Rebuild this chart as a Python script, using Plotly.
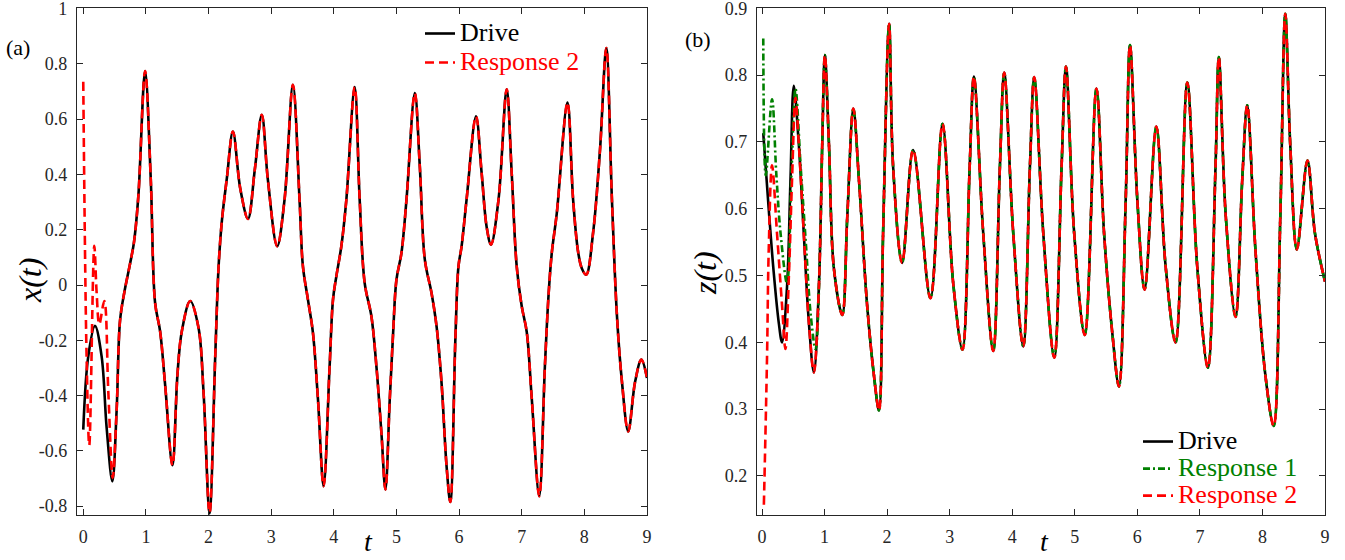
import plotly.graph_objects as go

# ---- panel (a): x(t) ----
t_drive_x = [0.0, 0.08, 0.187, 0.293, 0.373, 0.464, 0.533, 0.587, 0.656, 0.747, 0.81, 0.88,
             0.987, 1.077, 1.147, 1.227, 1.307, 1.424, 1.504, 1.573, 1.707, 1.84, 1.92, 2.016,
             2.107, 2.16, 2.213, 2.293, 2.389, 2.507, 2.63, 2.74, 2.85, 2.947, 3.096, 3.213,
             3.347, 3.453, 3.507, 3.587, 3.667, 3.747, 3.837, 3.933, 3.987, 4.04, 4.12, 4.2,
             4.333, 4.413, 4.493, 4.6, 4.68, 4.76, 4.824, 4.893, 4.947, 5.0, 5.08, 5.16,
             5.293, 5.373, 5.453, 5.56, 5.64, 5.72, 5.8, 5.86, 5.94, 5.99, 6.04, 6.12,
             6.27, 6.36, 6.44, 6.51, 6.63, 6.76, 6.84, 6.92, 7.0, 7.08, 7.16, 7.28,
             7.37, 7.43, 7.48, 7.56, 7.73, 7.82, 7.9, 7.96, 8.03, 8.14, 8.25, 8.35,
             8.44, 8.52, 8.6, 8.7, 8.81, 8.91, 9.0]
x_drive = [-0.523, -0.258, -0.148, -0.258, -0.516, -0.71, -0.452, -0.129, -0.026, 0.077, 0.155, 0.323,
           0.774, 0.387, -0.065, -0.168, -0.361, -0.652, -0.323, -0.168, -0.058, -0.155, -0.387, -0.826,
           -0.258, 0.065, 0.232, 0.387, 0.555, 0.348, 0.239, 0.42, 0.616, 0.381, 0.14, 0.308,
           0.724, 0.308, 0.067, -0.053, -0.173, -0.414, -0.728, -0.294, -0.053, 0.031, 0.14, 0.308,
           0.716, 0.308, 0.007, -0.113, -0.294, -0.535, -0.74, -0.414, -0.173, 0.019, 0.116, 0.308,
           0.694, 0.429, 0.092, -0.029, -0.149, -0.354, -0.655, -0.785, -0.2, 0.067, 0.14, 0.31,
           0.61, 0.405, 0.21, 0.146, 0.31, 0.708, 0.405, 0.067, -0.077, -0.17, -0.41, -0.764,
           -0.294, -0.03, 0.116, 0.26, 0.66, 0.31, 0.12, 0.06, 0.037, 0.19, 0.49, 0.857,
           0.31, -0.11, -0.35, -0.53, -0.35, -0.27, -0.336]

# response 2 before it locks onto the drive
t_resp2_x = [0.0, 0.053, 0.096, 0.176, 0.213, 0.256, 0.336, 0.4, 0.47]
x_resp2 = [0.735, -0.258, -0.58, 0.142, -0.026, -0.142, -0.058, -0.387, -0.697]

# ---- panel (b): z(t) ----
t_drive_z = [0.02, 0.107, 0.187, 0.267, 0.32, 0.4, 0.455, 0.508, 0.588, 0.668, 0.749, 0.829,
             0.909, 0.963, 1.005, 1.07, 1.15, 1.283, 1.364, 1.46, 1.55, 1.68, 1.79, 1.87,
             1.936, 2.032, 2.096, 2.24, 2.416, 2.693, 2.885, 3.056, 3.205, 3.32, 3.387, 3.536,
             3.696, 3.803, 3.872, 4.016, 4.176, 4.283, 4.352, 4.496, 4.672, 4.789, 4.859, 4.99,
             5.16, 5.346, 5.468, 5.6, 5.707, 5.814, 5.883, 6.0, 6.117, 6.303, 6.452, 6.612,
             6.798, 6.957, 7.128, 7.25, 7.303, 7.413, 7.571, 7.677, 7.757, 7.889, 8.048, 8.18,
             8.286, 8.365, 8.444, 8.55, 8.72, 8.84, 9.0]
z_drive = [0.713, 0.60, 0.505, 0.43, 0.40, 0.483, 0.643, 0.784, 0.697, 0.563, 0.43, 0.355,
           0.483, 0.697, 0.83, 0.697, 0.51, 0.441, 0.59, 0.75, 0.643, 0.456, 0.35, 0.298,
           0.564, 0.877, 0.663, 0.519, 0.688, 0.466, 0.727, 0.489, 0.389, 0.663, 0.798, 0.564,
           0.387, 0.663, 0.804, 0.564, 0.394, 0.663, 0.797, 0.564, 0.377, 0.663, 0.813, 0.564,
           0.411, 0.78, 0.564, 0.414, 0.334, 0.613, 0.845, 0.613, 0.479, 0.723, 0.514, 0.40,
           0.789, 0.514, 0.362, 0.663, 0.827, 0.59, 0.438, 0.643, 0.755, 0.537, 0.35, 0.275,
           0.59, 0.892, 0.697, 0.539, 0.672, 0.563, 0.491]

t_resp1_z = [0.02, 0.06, 0.16, 0.23, 0.3, 0.4, 0.47, 0.535, 0.62, 0.7, 0.78, 0.856, 0.93]
z_resp1 = [0.855, 0.65, 0.764, 0.65, 0.56, 0.488, 0.65, 0.78, 0.66, 0.55, 0.44, 0.39, 0.55]

t_resp2_z = [0.03, 0.08, 0.107, 0.16, 0.24, 0.32, 0.374, 0.43, 0.48, 0.535]
z_resp2 = [0.157, 0.376, 0.537, 0.665, 0.563, 0.456, 0.39, 0.5, 0.643, 0.766]

t_ticks = list(range(10))
x_tickvals = [-0.8, -0.6, -0.4, -0.2, 0, 0.2, 0.4, 0.6, 0.8, 1]
x_ticklabels = ['-0.8', '-0.6', '-0.4', '-0.2', '0', '0.2', '0.4', '0.6', '0.8', '1']
z_tickvals = [0.2, 0.3, 0.4, 0.5, 0.6, 0.7, 0.8, 0.9]
z_ticklabels = ['0.2', '0.3', '0.4', '0.5', '0.6', '0.7', '0.8', '0.9']


def follow(t_tr, v_tr, t_dr, v_dr):
    # transient part, then the drive once the response has synchronised
    t_out = list(t_tr)
    v_out = list(v_tr)
    for t, v in zip(t_dr, v_dr):
        if t > t_tr[-1]:
            t_out.append(t)
            v_out.append(v)
    return t_out, v_out


def leg_name(txt, color):
    # big coloured legend text; the legend font itself stays small so the rows stay tight
    return '<span style="font-size:26px;color:%s">%s</span>' % (color, txt)


SERIF = '"Liberation Serif", "Times New Roman", "DejaVu Serif", serif'
AX = '#262626'
W, H = 1345, 560
PLOT_TOP, PLOT_BOT = 8, 515
PH = PLOT_BOT - PLOT_TOP


def py(px_y):
    return (PLOT_BOT - px_y) / PH


fig = go.Figure()

fig.add_trace(go.Scatter(x=t_drive_x, y=x_drive, mode='lines', name=leg_name('Drive', '#000000'),
                         line=dict(color='black', width=2.6, shape='spline'),
                         xaxis='x', yaxis='y', legend='legend'))
tx, vx = follow(t_resp2_x, x_resp2, t_drive_x, x_drive)
fig.add_trace(go.Scatter(x=tx, y=vx, mode='lines', name=leg_name('Response 2', '#ff0000'),
                         line=dict(color='#ff0000', width=2.6, dash='9px,5px', shape='spline'),
                         xaxis='x', yaxis='y', legend='legend'))

fig.add_trace(go.Scatter(x=t_drive_z, y=z_drive, mode='lines', name=leg_name('Drive', '#000000'),
                         line=dict(color='black', width=2.6, shape='spline'),
                         xaxis='x2', yaxis='y2', legend='legend2'))
tz1, vz1 = follow(t_resp1_z, z_resp1, t_drive_z, z_drive)
fig.add_trace(go.Scatter(x=tz1, y=vz1, mode='lines', name=leg_name('Response 1', '#008000'),
                         line=dict(color='#008000', width=2.6, dash='7px,3px,2px,3px', shape='spline'),
                         xaxis='x2', yaxis='y2', legend='legend2'))
tz2, vz2 = follow(t_resp2_z, z_resp2, t_drive_z, z_drive)
fig.add_trace(go.Scatter(x=tz2, y=vz2, mode='lines', name=leg_name('Response 2', '#ff0000'),
                         line=dict(color='#ff0000', width=2.6, dash='9px,5px', shape='spline'),
                         xaxis='x2', yaxis='y2', legend='legend2'))

axis_common = dict(showline=True, linecolor=AX, linewidth=1.2, mirror='allticks',
                   ticks='inside', ticklen=6, tickcolor=AX, tickwidth=1,
                   showgrid=False, zeroline=False, automargin=False,
                   ticklabeloverflow='allow', ticklabelstandoff=5,
                   tickfont=dict(family=SERIF, size=18, color=AX))

fig.update_layout(
    width=W, height=H,
    margin=dict(l=0, r=0, t=PLOT_TOP, b=H - PLOT_BOT, autoexpand=False),
    paper_bgcolor='white', plot_bgcolor='white',
    font=dict(family=SERIF),
    xaxis=dict(domain=[77 / W, 647 / W], range=[-0.1, 9], tickvals=t_ticks,
               anchor='y', **axis_common),
    yaxis=dict(domain=[0, 1], range=[-0.832, 1.002], tickvals=x_tickvals,
               ticktext=x_ticklabels, anchor='x', **axis_common),
    xaxis2=dict(domain=[757 / W, 1325 / W], range=[-0.08, 9.0001], tickvals=t_ticks,
                anchor='y2', **axis_common),
    yaxis2=dict(domain=[0, 1], range=[0.1416, 0.9005], tickvals=z_tickvals,
                ticktext=z_ticklabels, anchor='x2', **axis_common),
    legend=dict(x=420 / W, y=py(14), xanchor='left', yanchor='top',
                bgcolor='rgba(0,0,0,0)', font=dict(family=SERIF, size=20, color='black'),
                tracegroupgap=0),
    legend2=dict(x=1138 / W, y=0.0, xanchor='left', yanchor='bottom',
                 bgcolor='rgba(0,0,0,0)', font=dict(family=SERIF, size=18.5, color='black'),
                 tracegroupgap=0),
    showlegend=True,
)


def label(text, x_px, y_px, size, angle=0):
    fig.add_annotation(text=text, x=x_px / W, y=py(y_px), xref='paper', yref='paper',
                       xanchor='center', yanchor='middle', showarrow=False, textangle=angle,
                       borderpad=0, font=dict(family=SERIF, size=size, color='black'))


label('(a)', 18, 48, 22)
label('(b)', 698, 40, 22)
label('<i>x</i><i>(t)</i>', 30, 281, 32, -90)
label('<i>z</i><i>(t)</i>', 705, 273, 32, -90)
label('<i>t</i>', 368, 541, 28)
label('<i>t</i>', 1044, 541, 28)

# drop the browser's default 8px page margin so the figure sits at the window origin
fig.write_html("out.html", config={'displayModeBar': False},
               post_script="document.body.style.margin='0px';")
